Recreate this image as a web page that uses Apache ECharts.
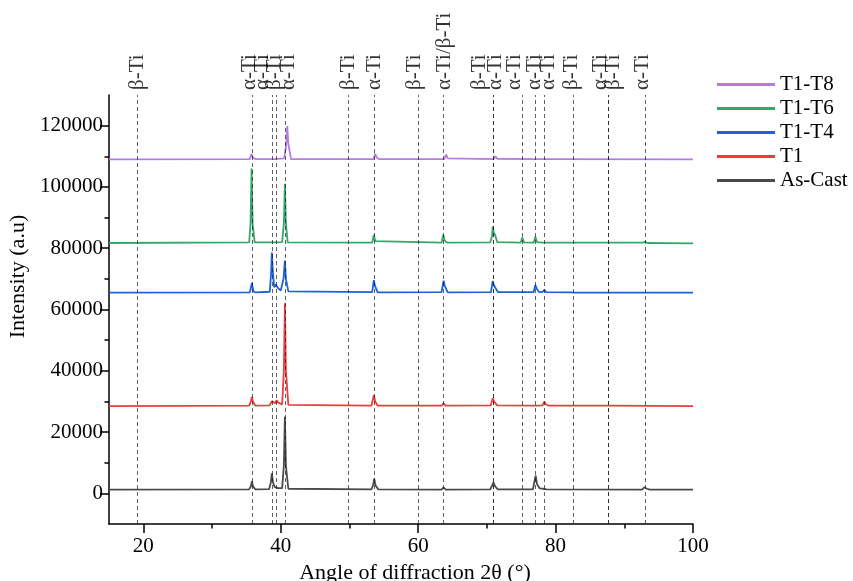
<!DOCTYPE html>
<html><head><meta charset="utf-8">
<script src="https://cdn.jsdelivr.net/npm/echarts@6/dist/echarts.min.js"></script>
<style>html,body{margin:0;padding:0;background:#fff}#c{width:853px;height:581px}</style>
</head><body><div id="c"></div>
<script>
// ---- data ----
const seriesNames = ['As-Cast', 'T1', 'T1-T4', 'T1-T6', 'T1-T8'];
const legendOrder = ['T1-T8', 'T1-T6', 'T1-T4', 'T1', 'As-Cast'];

const asCast = [[15,1200],[35.4,1300],[35.65,2300],[35.8,4000],[35.95,2300],[36.3,1300],[38.3,1350],[38.55,3500],[38.7,6500],[38.85,3800],[39.1,2100],[39.35,2200],[39.6,1700],[40.2,1700],[40.45,9000],[40.6,25000],[40.75,9000],[41.1,1500],[53.2,1300],[53.45,2800],[53.6,4800],[53.8,2600],[54.2,1300],[63.4,1250],[63.7,2000],[64.0,1250],[70.5,1300],[70.8,2800],[70.95,3600],[71.2,2300],[71.6,1300],[76.7,1300],[76.95,4200],[77.1,5800],[77.3,3000],[77.7,1600],[78.15,1500],[78.4,1900],[78.7,1300],[92.6,1250],[92.9,2000],[93.05,2100],[93.3,1500],[93.7,1200],[100,1200]];

const t1 = [[15,28500],[35.4,28600],[35.65,30000],[35.8,31500],[35.95,30000],[36.3,28600],[38.4,28700],[38.7,30100],[38.95,29500],[39.2,29400],[39.4,30400],[39.65,29600],[40.2,29000],[40.45,40000],[40.6,62000],[40.75,40000],[41.1,28900],[53.2,28600],[53.55,32000],[53.75,30000],[54.1,28600],[63.4,28600],[63.7,29400],[64.0,28600],[70.55,28700],[70.85,31000],[71.05,30000],[71.5,28700],[76.9,28600],[77.1,29200],[77.3,28600],[78.1,28700],[78.35,29900],[78.6,29000],[79.0,28600],[87.4,28600],[87.6,28900],[87.8,28600],[100,28500]];

const t1t4 = [[15,65500],[35.5,65600],[35.8,68700],[36.0,66000],[36.3,65600],[38.4,65800],[38.6,72000],[38.7,78600],[38.85,72000],[39.05,67200],[39.25,68200],[39.4,68800],[39.6,67000],[40.0,66200],[40.4,70000],[40.6,76000],[40.75,70000],[41.1,65900],[53.3,65700],[53.55,69600],[53.7,67800],[54.1,65600],[63.4,65700],[63.7,69400],[63.85,67800],[64.3,65600],[70.6,65700],[70.85,69300],[71.0,68000],[71.2,67500],[71.6,65700],[76.8,65700],[77.05,68000],[77.25,66800],[77.6,65700],[78.1,65700],[78.35,66400],[78.6,65700],[82.3,65600],[82.5,65800],[82.7,65500],[100,65500]];

const t1t6 = [[15,81700],[35.4,81900],[35.6,88000],[35.75,106000],[35.9,88000],[36.2,81900],[38.5,81900],[38.7,82400],[38.9,81900],[40.2,82000],[40.45,88000],[40.6,101000],[40.75,88000],[41.0,81900],[53.3,81800],[53.55,84300],[53.75,82300],[54.0,81800],[63.4,81800],[63.65,84400],[63.85,82500],[64.2,81800],[70.5,81900],[70.75,84000],[70.85,87100],[71.0,85000],[71.2,84300],[71.5,82000],[74.9,81800],[75.15,83500],[75.4,81900],[76.8,81800],[77.05,83700],[77.3,82000],[78.1,81800],[78.35,82400],[78.6,81800],[92.7,81800],[93.0,82200],[93.4,81700],[100,81600]];

const t1t8 = [[15,109000],[35.5,109100],[35.75,110800],[35.95,109500],[36.4,109100],[38.5,109100],[38.75,109500],[39.0,109100],[40.5,109300],[40.8,114000],[40.95,119900],[41.1,114000],[41.5,109100],[53.5,109100],[53.75,110800],[53.95,109600],[54.3,109100],[63.8,109100],[64.05,110600],[64.3,109300],[71.0,109100],[71.25,110000],[71.5,109200],[77.0,109100],[77.25,109700],[77.5,109100],[78.3,109100],[78.55,109700],[78.8,109100],[100,109000]];

const refLineAngles = [19.1, 35.8, 38.7, 39.4, 40.6, 49.8, 53.6, 60.0, 63.7, 70.9, 70.9, 75.2, 77.1, 78.4, 82.5, 87.6, 87.6, 93.0];
const refLabelAngles = [19.2, 35.4, 37.35, 39.1, 41.1, 49.8, 53.6, 59.5, 63.8, 68.9, 71.3, 73.95, 76.9, 78.9, 82.25, 86.6, 88.4, 92.7];
const refLabels = ['β-Ti','α-Ti','α-Ti','β-Ti','α-Ti','β-Ti','α-Ti','β-Ti','α-Ti/β-Ti','β-Ti','α-Ti','α-Ti','α-Ti','α-Ti','β-Ti','α-Ti','β-Ti','α-Ti'];

const xMajorTicks = [20, 40, 60, 80, 100];
const xMinorTicks = [30, 50, 70, 90];
const yMajorTicks = [0, 20000, 40000, 60000, 80000, 100000, 120000];
const yMinorTicks = [10000, 30000, 50000, 70000, 90000, 110000];

// ---- styling ----
const FONT = "'Liberation Serif', 'Times New Roman', serif";
const colors = {'As-Cast': '#4a4a4a', 'T1': '#f03a3c', 'T1-T4': '#1d62d8', 'T1-T6': '#34a76a', 'T1-T8': '#b47ce2'};
const dataMap = {'As-Cast': asCast, 'T1': t1, 'T1-T4': t1t4, 'T1-T6': t1t6, 'T1-T8': t1t8};

const chart = echarts.init(document.getElementById('c'), null, {renderer: 'canvas'});

const xBase = {type: 'value', min: 15, max: 100, splitLine: {show: false}};
const yBase = {type: 'value', min: -10000, max: 130000, splitLine: {show: false}};

const series = seriesNames.map((n, i) => ({
  name: n, type: 'line', xAxisIndex: 0, yAxisIndex: 0,
  data: dataMap[n], showSymbol: false, symbol: 'none',
  lineStyle: {width: 1.8, color: colors[n]}, itemStyle: {color: colors[n]},
  z: 3,
  markLine: i === 0 ? {
    silent: true, symbol: 'none', animation: false,
    label: {show: false},
    lineStyle: {color: 'rgba(30,30,30,0.7)', width: 1, type: [4, 3]},
    data: refLineAngles.map(a => ({xAxis: a}))
  } : undefined
}));

series.push({
  type: 'scatter', xAxisIndex: 2, yAxisIndex: 2, symbolSize: 1,
  itemStyle: {color: 'rgba(0,0,0,0)'}, silent: true,
  data: refLabelAngles.map((a, i) => ({value: [a, 0], name: refLabels[i]})),
  label: {show: true, position: 'inside', rotate: 90, align: 'left', verticalAlign: 'middle',
    formatter: '{b}', color: '#000', fontFamily: FONT, fontSize: 21}
});

chart.setOption({
  animation: false,
  backgroundColor: '#fff',
  textStyle: {fontFamily: FONT},
  grid: [
    {left: 109, right: 160, top: 95, bottom: 57, containLabel: false, outerBoundsMode: 'none'},
    {left: 109, right: 160, top: 0, height: 90, containLabel: false, outerBoundsMode: 'none'}
  ],
  legend: {
    data: legendOrder, orient: 'vertical', left: 717, top: 74, padding: 0,
    icon: 'rect', itemWidth: 58, itemHeight: 3, itemGap: 3,
    textStyle: {fontFamily: FONT, fontSize: 21, color: '#000'}
  },
  xAxis: [
    Object.assign({}, xBase, {
      gridIndex: 0, position: 'bottom',
      name: 'Angle of diffraction 2θ (°)', nameLocation: 'middle', nameGap: 34,
      nameTextStyle: {fontFamily: FONT, fontSize: 22, color: '#000', padding: [0, 0, 0, 28]},
      axisLine: {onZero: false, lineStyle: {color: '#000', width: 1.5}},
      axisTick: {customValues: xMajorTicks, length: 9, lineStyle: {color: '#000', width: 1.5}},
      axisLabel: {customValues: xMajorTicks, fontFamily: FONT, fontSize: 21, color: '#000', margin: 12}
    }),
    Object.assign({}, xBase, {
      gridIndex: 0, position: 'bottom',
      axisLine: {show: false, onZero: false},
      axisTick: {customValues: xMinorTicks, length: 4.5, lineStyle: {color: '#000', width: 1.5}},
      axisLabel: {show: false}
    }),
    Object.assign({}, xBase, {gridIndex: 1, show: false})
  ],
  yAxis: [
    Object.assign({}, yBase, {
      gridIndex: 0, position: 'left',
      name: 'Intensity (a.u)', nameLocation: 'middle', nameGap: 78,
      nameTextStyle: {fontFamily: FONT, fontSize: 22, color: '#000', padding: [0, 0, 0, 66]},
      axisLine: {show: true, onZero: false, lineStyle: {color: '#000', width: 1.5}},
      axisTick: {show: true, customValues: yMajorTicks, length: 9, lineStyle: {color: '#000', width: 1.5}},
      axisLabel: {customValues: yMajorTicks, formatter: v => String(v), fontFamily: FONT, fontSize: 21, color: '#000', margin: 6}
    }),
    Object.assign({}, yBase, {
      gridIndex: 0, position: 'left',
      axisLine: {show: false, onZero: false},
      axisTick: {show: true, customValues: yMinorTicks, length: 4.5, lineStyle: {color: '#000', width: 1.5}},
      axisLabel: {show: false}
    }),
    {type: 'value', min: 0, max: 1, gridIndex: 1, show: false}
  ],
  series: series
});
</script>
</body></html>
